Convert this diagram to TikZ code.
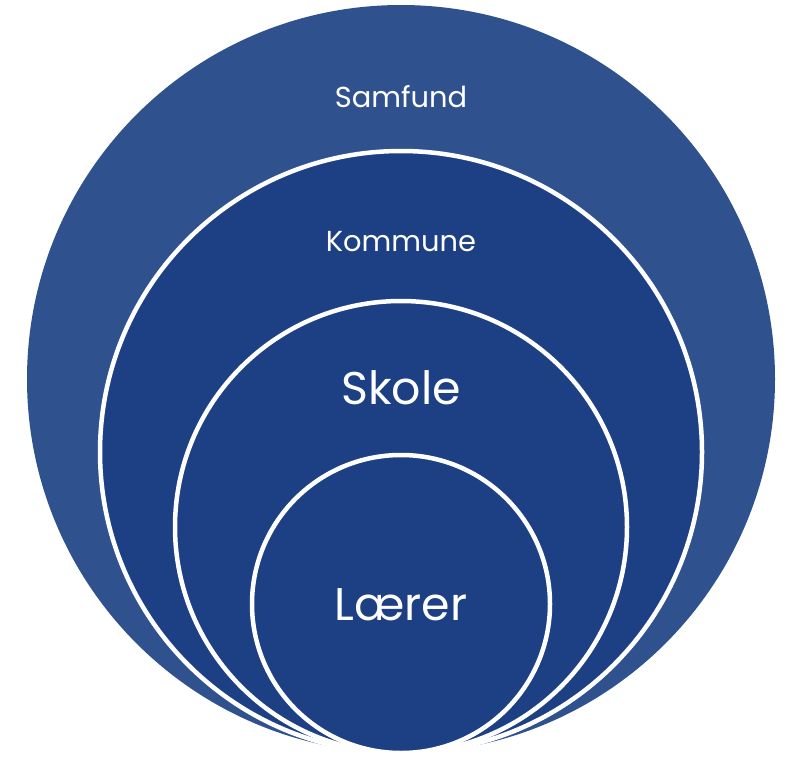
\documentclass[tikz,border=0pt]{standalone}
\usepackage{fontspec}
\setmainfont{Poppins}
\usepackage{tikz}

\definecolor{samfundblue}{RGB}{47,82,143}
\definecolor{ringblue}{RGB}{29,64,132}

\tikzset{
	ring/.style = {fill = ringblue, draw = white, line width = 4.5bp},
	ringtext/.style = {text = white, inner sep = 0pt, anchor = center}
}

\begin{document}
\begin{tikzpicture}[x = 1bp, y = -1bp]
	\def\bot{753};
	\def\cx{401};
	
	\useasboundingbox (0,0) rectangle (795,757);
	
	\coordinate (samfundc) at (\cx,{\bot-374});
	\coordinate (kommunec) at (\cx,{\bot-301});
	\coordinate (skolec) at (\cx,{\bot-226});
	\coordinate (laererc) at (\cx,{\bot-149});
	
	\begin{scope}
		\fill [samfundblue] (samfundc) circle [radius = 374];
		\draw [ring] (kommunec) circle [radius = 301];
		\draw [ring] (skolec) circle [radius = 226];
		\draw [ring] (laererc) circle [radius = 149];
	\end{scope}
	
	\begin{scope}[font = \fontsize{29}{34}\selectfont]
		\node [ringtext] (samfund) at (\cx,97) {Samfund};
		\node [ringtext] (kommune) at (\cx,242) {Kommune};
	\end{scope}
	
	\begin{scope}[font = \fontsize{46}{54}\selectfont]
		\node [ringtext] (skole) at (\cx,388) {Skole};
		\node [ringtext] (laerer) at (\cx,605) {Lærer};
	\end{scope}
\end{tikzpicture}
\end{document}
